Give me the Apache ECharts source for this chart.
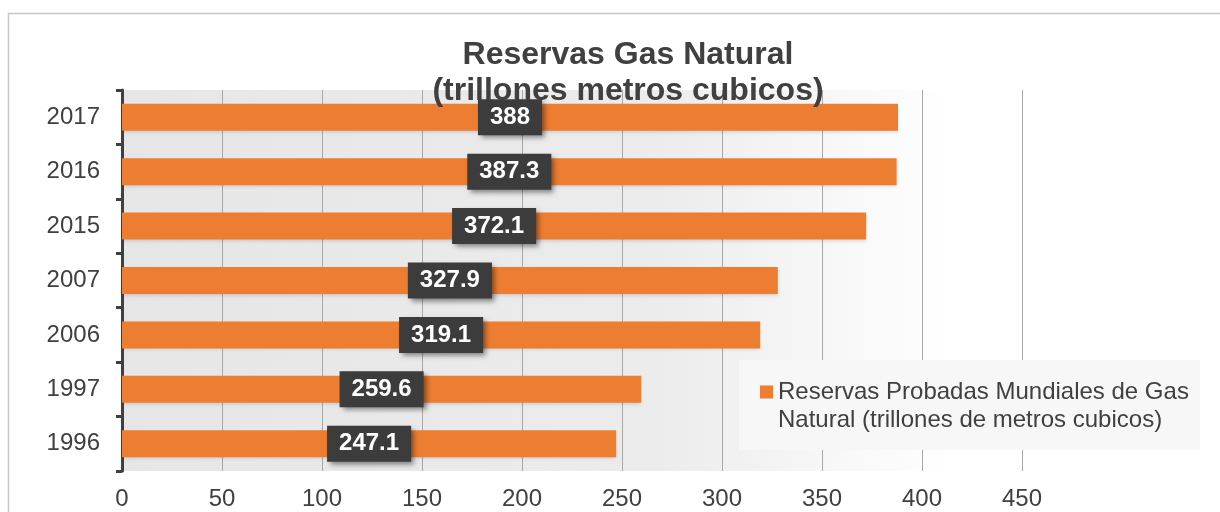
<!DOCTYPE html>
<html>
<head>
<meta charset="utf-8">
<script src="https://cdn.jsdelivr.net/npm/echarts@6/dist/echarts.min.js"></script>
<style>
  html, body { margin: 0; padding: 0; background: #fff; }
  #chart { width: 1220px; height: 512px; }
</style>
</head>
<body>
<div id="chart"></div>
<script>
// datos de la grafica
const years = ['1996', '1997', '2006', '2007', '2015', '2016', '2017']
const reservas = [247.1, 259.6, 319.1, 327.9, 372.1, 387.3, 388]
const seriesName = 'Reservas Probadas Mundiales de Gas\nNatural (trillones de metros cubicos)'
const chartTitle = 'Reservas Gas Natural\n(trillones metros cubicos)'

const textColor = '#404040'
const fontFamily = '"Liberation Sans", Arial, sans-serif'

const myChart = echarts.init(document.getElementById('chart'))

const option = {
  animation: false,
  textStyle: { fontFamily: fontFamily },
  title: {
    text: chartTitle,
    left: 623,
    textAlign: 'center',
    top: 32,
    textStyle: {
      fontSize: 32,
      fontWeight: 'bold',
      color: textColor,
      lineHeight: 36,
      fontFamily: fontFamily
    }
  },
  graphic: [
    {
      type: 'rect',
      z: -10,
      shape: { x: 8.5, y: 13.5, width: 1300, height: 600 },
      style: { fill: 'none', stroke: '#c8c8c8', lineWidth: 1.5 }
    },
    {
      type: 'rect',
      z: 5,
      shape: { x: 739, y: 360, width: 461, height: 90 },
      style: { fill: '#f7f7f7' }
    }
  ],
  legend: {
    data: [seriesName],
    // linea vacia arriba para que el cuadro quede junto a la primera linea
    formatter: name => '\n' + name,
    left: 760,
    top: 350,
    padding: 0,
    z: 10,
    itemWidth: 13,
    itemHeight: 13,
    icon: 'rect',
    textStyle: {
      fontSize: 24,
      color: textColor,
      lineHeight: 28,
      fontFamily: fontFamily
    }
  },
  grid: {
    left: 122,
    right: 198,
    top: 90,
    bottom: 41,
    show: true,
    borderWidth: 0,
    backgroundColor: {
      type: 'linear', x: 0, y: 0, x2: 1, y2: 0,
      colorStops: [
        { offset: 0, color: '#e6e6e6' },
        { offset: 0.6, color: '#ececec' },
        { offset: 0.92, color: '#ffffff' },
        { offset: 1, color: '#ffffff' }
      ]
    }
  },
  xAxis: {
    type: 'value',
    min: 0,
    max: 450,
    interval: 50,
    axisLine: { show: false },
    axisTick: { show: false },
    axisLabel: {
      fontSize: 24,
      color: textColor,
      margin: 16,
      fontFamily: fontFamily
    },
    splitLine: { show: true, lineStyle: { color: '#a8a8a8', width: 1 } }
  },
  yAxis: {
    type: 'category',
    data: years,
    axisLine: { show: true, lineStyle: { color: '#404040', width: 3 } },
    axisTick: { show: true, length: 6, lineStyle: { color: '#404040', width: 3 } },
    axisLabel: {
      fontSize: 24,
      color: textColor,
      margin: 22,
      fontFamily: fontFamily
    }
  },
  series: [
    {
      name: seriesName,
      type: 'bar',
      data: reservas,
      barWidth: 27,
      itemStyle: {
        color: '#ED7D31',
        shadowColor: 'rgba(0,0,0,0.12)',
        shadowBlur: 3,
        shadowOffsetY: 2
      },
      label: {
        show: true,
        position: 'inside',
        color: '#ffffff',
        fontSize: 24,
        fontWeight: 'bold',
        fontFamily: fontFamily,
        backgroundColor: '#3c3c3c',
        padding: [6, 12],
        shadowColor: 'rgba(0,0,0,0.45)',
        shadowBlur: 5,
        shadowOffsetX: 3,
        shadowOffsetY: 3
      }
    }
  ]
}

myChart.setOption(option)
</script>
</body>
</html>
